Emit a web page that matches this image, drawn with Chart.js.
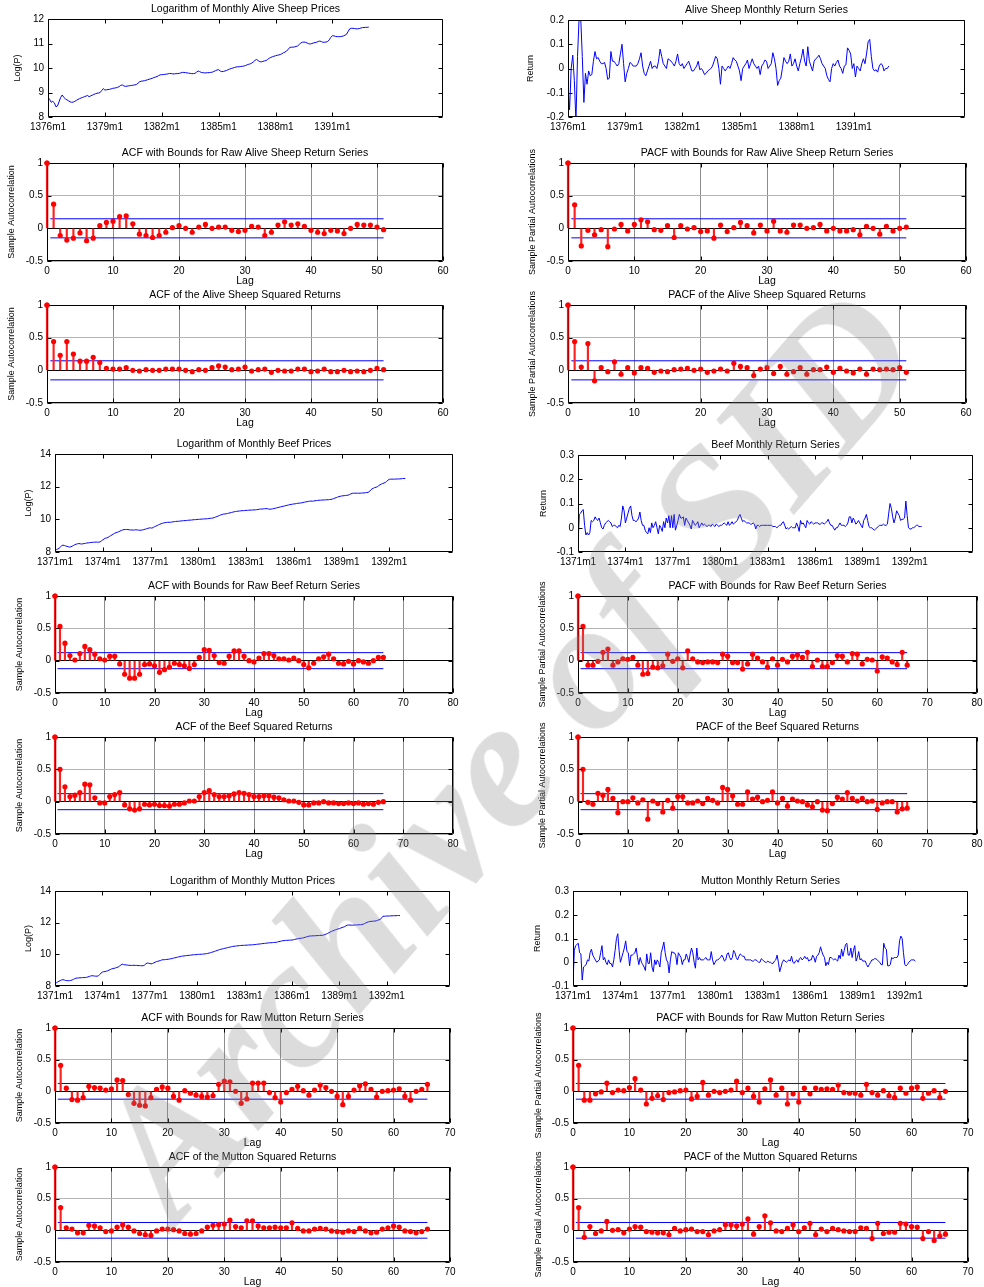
<!DOCTYPE html>
<html>
<head>
<meta charset="utf-8">
<script src="https://cdn.jsdelivr.net/npm/chart.js@4.4.1/dist/chart.umd.min.js"></script>
<style>
  html, body { margin: 0; padding: 0; background: #fff; overflow: hidden; }
  #page { position: relative; width: 984px; height: 1287px; overflow: hidden; }
  #page canvas { position: absolute; }
  #mark {
    position: absolute; left: 505px; top: 752px; z-index: 5;
    transform: translate(-50%, -50%) rotate(-49deg);
    font: italic bold 185px "Liberation Serif", "DejaVu Serif", serif;
    color: rgba(128, 128, 128, 0.28); white-space: nowrap; pointer-events: none;
  }
</style>
</head>
<body>
<div id="page"><div id="mark">Archive of SID</div></div>
<script>
// ---- price series (log) and returns, one value per month ----
const sheepLog = [
  8.80, 8.72, 8.60, 8.64, 8.58, 8.42, 8.45, 8.62, 8.80, 8.90,
  8.80, 8.74, 8.70, 8.66, 8.62, 8.60, 8.61, 8.64, 8.68, 8.72,
  8.75, 8.78, 8.80, 8.83, 8.85, 8.88, 8.83, 8.86, 8.89, 8.92,
  8.95, 8.97, 8.98, 9.00, 9.08, 9.16, 9.10, 9.11, 9.12, 9.13,
  9.15, 9.17, 9.18, 9.19, 9.21, 9.24, 9.29, 9.31, 9.27, 9.25,
  9.26, 9.27, 9.28, 9.29, 9.30, 9.31, 9.33, 9.38, 9.44, 9.46,
  9.47, 9.48, 9.50, 9.52, 9.54, 9.56, 9.58, 9.61, 9.63, 9.65,
  9.69, 9.72, 9.73, 9.73, 9.74, 9.75, 9.76, 9.78, 9.77, 9.76,
  9.76, 9.77, 9.77, 9.78, 9.80, 9.82, 9.82, 9.81, 9.80, 9.79,
  9.78, 9.77, 9.77, 9.78, 9.83, 9.88, 9.85, 9.82, 9.81, 9.80,
  9.80, 9.81, 9.81, 9.82, 9.83, 9.86, 9.89, 9.92, 9.93, 9.88,
  9.85, 9.86, 9.88, 9.90, 9.93, 9.96, 9.98, 10.00, 10.02, 10.04,
  10.05, 10.05, 10.06, 10.07, 10.08, 10.10, 10.13, 10.15, 10.17, 10.20,
  10.25, 10.31, 10.35, 10.30, 10.26, 10.25, 10.27, 10.29, 10.30, 10.35,
  10.40, 10.43, 10.46, 10.48, 10.50, 10.52, 10.53, 10.55, 10.58, 10.62,
  10.65, 10.70, 10.75, 10.84, 10.85, 10.85, 10.86, 10.88, 10.90, 10.96,
  11.02, 11.05, 11.06, 11.05, 11.02, 10.99, 10.98, 11.00, 11.02, 11.04,
  11.05, 11.08, 11.10, 11.08, 11.05, 11.05, 11.06, 11.08, 11.15, 11.25,
  11.32, 11.31, 11.29, 11.28, 11.28, 11.28, 11.29, 11.31, 11.34, 11.38,
  11.50, 11.60, 11.62, 11.62, 11.61, 11.60, 11.60, 11.61, 11.63, 11.65,
  11.65, 11.66, 11.66, 11.67
];
const sheepRet = [
  -0.07, -0.17, 0.00, 0.055, -0.05, -0.22, 0.05, 0.21, 0.21, 0.05, -0.14,
  -0.02, -0.065, -0.01, -0.03, -0.025, 0.03, 0.07, 0.04, 0.045, 0.03,
  0.02, 0.02, 0.025, 0.00, -0.045, -0.04, 0.07, 0.03, 0.03, 0.02,
  0.01, 0.02, 0.06, 0.10, 0.02, -0.055, -0.02, 0.00, 0.025, 0.02,
  0.01, 0.01, 0.01, 0.02, 0.04, 0.065, 0.01, -0.02, -0.03, -0.01,
  0.01, 0.03, 0.00, 0.01, 0.01, 0.00, 0.03, 0.08, 0.05, 0.02,
  0.01, 0.00, 0.04, 0.035, 0.03, 0.02, 0.01, 0.03, 0.06, 0.02,
  0.01, 0.02, 0.00, 0.01, 0.02, 0.03, 0.01, -0.01, -0.01, 0.00,
  0.01, 0.03, -0.005, 0.00, -0.01, -0.025, -0.02, -0.01, -0.005, 0.00,
  0.01, 0.03, 0.05, 0.04, 0.00, -0.065, 0.01, 0.00, -0.01, 0.00,
  0.01, 0.00, 0.02, 0.045, 0.035, 0.03, 0.01, -0.01, -0.05, 0.00,
  0.01, 0.02, 0.035, 0.00, 0.02, 0.04, 0.02, 0.01, 0.00, 0.01,
  -0.025, 0.01, 0.02, 0.035, 0.03, 0.00, 0.01, 0.02, 0.065, 0.04,
  0.00, -0.07, -0.05, -0.04, 0.00, 0.045, 0.03, 0.02, 0.03, 0.06,
  0.01, 0.02, 0.04, 0.01, -0.01, 0.02, 0.045, 0.08, 0.03, 0.01,
  0.09, 0.03, 0.01, -0.01, 0.03, 0.04, 0.045, 0.055, 0.04, 0.02,
  0.01, 0.00, -0.03, -0.045, -0.055, 0.00, 0.02, 0.01, 0.025, 0.035,
  0.01, 0.00, -0.02, 0.01, 0.015, 0.085, 0.075, 0.06, 0.00, 0.02,
  -0.035, 0.01, 0.00, -0.01, 0.02, 0.04, 0.02, 0.06, 0.11, 0.12,
  0.05, 0.00, -0.01, -0.005, -0.015, 0.01, 0.02, 0.015, -0.01, 0.00,
  0.00, 0.01
];
const beefLog = [
  8.10, 8.14, 8.18, 8.22, 8.30, 8.38, 8.42, 8.40, 8.37, 8.35,
  8.32, 8.30, 8.32, 8.36, 8.40, 8.45, 8.48, 8.50, 8.52, 8.50,
  8.49, 8.50, 8.52, 8.53, 8.55, 8.56, 8.57, 8.58, 8.59, 8.60,
  8.60, 8.61, 8.60, 8.60, 8.62, 8.68, 8.74, 8.80, 8.84, 8.86,
  8.90, 8.95, 9.00, 9.05, 9.10, 9.15, 9.18, 9.21, 9.24, 9.28,
  9.32, 9.35, 9.37, 9.38, 9.38, 9.37, 9.36, 9.35, 9.35, 9.34,
  9.35, 9.36, 9.35, 9.34, 9.33, 9.34, 9.35, 9.37, 9.40, 9.42,
  9.45, 9.47, 9.48, 9.46, 9.50, 9.55, 9.58, 9.62, 9.66, 9.70,
  9.73, 9.76, 9.78, 9.80, 9.81, 9.82, 9.82, 9.82, 9.83, 9.85,
  9.86, 9.87, 9.88, 9.88, 9.89, 9.90, 9.91, 9.92, 9.92, 9.93,
  9.94, 9.95, 9.95, 9.96, 9.97, 9.98, 9.98, 9.99, 10.00, 10.00,
  10.01, 10.02, 10.02, 10.03, 10.03, 10.04, 10.05, 10.06, 10.07, 10.08,
  10.10, 10.14, 10.17, 10.20, 10.24, 10.27, 10.30, 10.32, 10.33, 10.34,
  10.36, 10.38, 10.40, 10.42, 10.44, 10.46, 10.48, 10.49, 10.50, 10.51,
  10.52, 10.53, 10.53, 10.54, 10.55, 10.55, 10.56, 10.56, 10.57, 10.57,
  10.58, 10.58, 10.59, 10.60, 10.62, 10.63, 10.63, 10.64, 10.65, 10.66,
  10.65, 10.63, 10.62, 10.63, 10.64, 10.66, 10.68, 10.70, 10.72, 10.74,
  10.76, 10.78, 10.80, 10.82, 10.84, 10.86, 10.88, 10.90, 10.91, 10.93,
  10.94, 10.95, 10.97, 10.98, 10.99, 11.00, 11.01, 11.03, 11.05, 11.07,
  11.08, 11.10, 11.11, 11.12, 11.11, 11.12, 11.14, 11.15, 11.16, 11.17,
  11.17, 11.18, 11.18, 11.19, 11.19, 11.20, 11.20, 11.21, 11.22, 11.24,
  11.27, 11.30, 11.33, 11.36, 11.39, 11.41, 11.43, 11.44, 11.45, 11.46,
  11.47, 11.48, 11.52, 11.56, 11.59, 11.60, 11.60, 11.60, 11.60, 11.60,
  11.60, 11.61, 11.61, 11.62, 11.63, 11.64, 11.65, 11.70, 11.80, 11.87,
  11.90, 11.95, 11.96, 12.00, 12.06, 12.12, 12.16, 12.20, 12.22, 12.26,
  12.32, 12.40, 12.45, 12.46, 12.46, 12.46, 12.46, 12.47, 12.47, 12.47,
  12.48, 12.48, 12.50, 12.50, 12.50
];
const beefRet = [
  -0.07, 0.055, 0.06, 0.07, 0.075, 0.01, -0.03, -0.02, -0.03, -0.02,
  0.03, 0.025, 0.03, 0.045, 0.035, 0.03, 0.04, 0.02, 0.00, -0.005,
  0.01, 0.02, 0.025, 0.03, 0.025, 0.02, 0.005, 0.01, 0.01, 0.005,
  0.00, 0.01, 0.005, 0.04, 0.09, 0.07, 0.02, 0.04, 0.06, 0.08,
  0.09, 0.05, 0.03, 0.03, 0.025, 0.03, 0.04, 0.065, 0.03, 0.01,
  0.01, -0.01, -0.02, -0.025, 0.00, -0.02, 0.02, 0.00, 0.01, 0.025,
  0.00, -0.025, 0.01, 0.00, -0.015, 0.025, 0.00, 0.04, 0.02, 0.05,
  0.00, 0.05, 0.00, 0.055, -0.01, 0.01, 0.03, 0.055, 0.04, 0.04,
  0.045, 0.01, 0.04, 0.03, 0.02, 0.01, -0.005, 0.03, 0.02, 0.01,
  0.015, 0.025, 0.00, 0.01, 0.02, 0.01, 0.015, 0.01, 0.005, 0.01,
  0.01, 0.005, 0.015, 0.01, 0.005, 0.015, 0.01, 0.005, 0.01, 0.01,
  0.015, 0.02, 0.015, 0.01, 0.025, 0.01, 0.015, 0.025, 0.015, 0.02,
  0.025, 0.03, 0.045, 0.055, 0.04, 0.025, 0.03, 0.025, 0.02, 0.02,
  0.02, 0.015, 0.015, 0.02, 0.015, -0.005, 0.01, 0.01, 0.005, 0.01,
  0.01, 0.01, 0.01, 0.01, 0.01, 0.01, 0.01, 0.01, 0.005, 0.005,
  0.005, 0.00, 0.005, 0.01, 0.01, 0.02, 0.025, 0.01, -0.005, 0.00,
  -0.005, 0.00, 0.005, 0.00, 0.00, 0.00, 0.02, 0.005, -0.015, 0.03,
  0.015, 0.02, 0.01, 0.00, 0.03, 0.02, 0.015, 0.025, 0.02, 0.015,
  0.02, 0.02, 0.02, 0.015, 0.015, 0.02, 0.02, 0.015, 0.02, 0.025,
  0.035, 0.02, 0.01, 0.01, 0.00, -0.01, 0.00, 0.00, 0.01, 0.02,
  0.01, 0.01, 0.01, 0.005, 0.01, 0.02, 0.045, 0.045, 0.02, 0.04,
  0.03, 0.015, 0.02, 0.03, 0.02, 0.01, 0.00, 0.03, 0.04, 0.055,
  0.03, 0.005, 0.00, 0.00, -0.005, -0.01, -0.005, 0.00, 0.005, 0.01,
  0.01, 0.01, 0.015, 0.01, 0.01, 0.015, 0.06, 0.10, 0.08, 0.045,
  0.02, 0.04, 0.07, 0.06, 0.05, 0.03, 0.035, 0.035, 0.04, 0.11,
  0.05, 0.00, -0.005, -0.005, 0.00, 0.00, 0.005, 0.01, 0.01, 0.005,
  0.005, 0.005
];
const muttonLog = [
  8.15, 8.20, 8.25, 8.30, 8.34, 8.38, 8.40, 8.38, 8.35, 8.34,
  8.33, 8.34, 8.35, 8.38, 8.42, 8.46, 8.50, 8.50, 8.51, 8.52,
  8.52, 8.53, 8.53, 8.54, 8.55, 8.57, 8.60, 8.63, 8.65, 8.64,
  8.63, 8.62, 8.62, 8.65, 8.72, 8.82, 8.88, 8.90, 8.91, 8.94,
  8.96, 9.00, 9.04, 9.08, 9.10, 9.12, 9.14, 9.17, 9.20, 9.26,
  9.32, 9.38, 9.36, 9.34, 9.33, 9.32, 9.31, 9.30, 9.30, 9.30,
  9.31, 9.30, 9.30, 9.29, 9.29, 9.28, 9.28, 9.28, 9.32, 9.40,
  9.45, 9.44, 9.42, 9.40, 9.42, 9.46, 9.50, 9.54, 9.56, 9.58,
  9.61, 9.64, 9.66, 9.66, 9.67, 9.68, 9.69, 9.70, 9.72, 9.74,
  9.76, 9.78, 9.80, 9.82, 9.84, 9.86, 9.88, 9.89, 9.90, 9.91,
  9.92, 9.93, 9.94, 9.95, 9.96, 9.97, 9.98, 9.98, 9.99, 10.00,
  10.00, 10.01, 10.01, 10.02, 10.03, 10.04, 10.06, 10.08, 10.10, 10.13,
  10.15, 10.18, 10.21, 10.24, 10.27, 10.30, 10.32, 10.34, 10.36, 10.38,
  10.40, 10.42, 10.44, 10.46, 10.48, 10.50, 10.51, 10.52, 10.53, 10.54,
  10.55, 10.56, 10.56, 10.57, 10.57, 10.58, 10.58, 10.59, 10.59, 10.60,
  10.60, 10.61, 10.62, 10.63, 10.64, 10.65, 10.66, 10.67, 10.68, 10.69,
  10.70, 10.71, 10.72, 10.73, 10.73, 10.74, 10.75, 10.75, 10.76, 10.78,
  10.80, 10.82, 10.84, 10.86, 10.87, 10.88, 10.88, 10.89, 10.89, 10.90,
  10.90, 10.92, 10.94, 10.96, 10.98, 11.00, 11.01, 11.02, 11.03, 11.05,
  11.08, 11.10, 11.13, 11.15, 11.16, 11.16, 11.17, 11.17, 11.18, 11.18,
  11.19, 11.19, 11.20, 11.20, 11.22, 11.25, 11.28, 11.32, 11.36, 11.41,
  11.45, 11.48, 11.52, 11.55, 11.58, 11.60, 11.63, 11.66, 11.69, 11.72,
  11.75, 11.80, 11.84, 11.85, 11.85, 11.84, 11.84, 11.85, 11.85, 11.86,
  11.86, 11.87, 11.87, 11.88, 11.90, 11.94, 11.98, 12.02, 12.05, 12.07,
  12.08, 12.09, 12.10, 12.10, 12.12, 12.15, 12.18, 12.20, 12.30, 12.40,
  12.41, 12.41, 12.42, 12.42, 12.42, 12.43, 12.43, 12.44, 12.44, 12.44,
  12.45, 12.45, 12.45
];
const muttonRet = [
  -0.09, 0.05, 0.07, 0.075, 0.08, 0.04, 0.035, -0.075, -0.02, -0.015,
  -0.01, 0.01, 0.005, 0.04, 0.055, 0.03, 0.02, 0.01, 0.00, 0.005,
  0.01, 0.04, 0.07, 0.01, 0.02, 0.00, -0.01, 0.01, -0.005, -0.005,
  -0.02, 0.01, 0.05, 0.10, 0.12, 0.05, 0.00, 0.02, 0.04, 0.06,
  0.09, 0.045, 0.04, -0.015, 0.03, 0.03, 0.035, 0.04, 0.06, 0.02,
  -0.01, 0.02, 0.00, -0.01, -0.02, -0.035, 0.035, -0.005, -0.005, 0.04,
  -0.02, -0.04, 0.01, -0.01, 0.01, 0.00, -0.02, 0.04, 0.06, 0.085,
  0.04, 0.01, 0.00, -0.045, 0.01, 0.045, 0.04, 0.04, 0.03, -0.01,
  0.04, 0.03, 0.02, -0.01, 0.01, 0.01, 0.035, 0.02, 0.00, 0.035,
  0.06, 0.04, 0.00, -0.025, 0.06, 0.01, 0.02, 0.01, 0.01, 0.01,
  0.015, 0.02, 0.01, 0.01, 0.01, 0.045, 0.01, -0.01, 0.00, 0.01,
  0.01, 0.015, 0.02, 0.03, 0.02, 0.005, 0.01, 0.035, 0.04, 0.02,
  0.01, 0.02, 0.05, 0.04, 0.02, 0.01, 0.025, 0.035, 0.03, 0.025,
  0.025, 0.01, 0.01, 0.01, 0.01, 0.01, 0.005, 0.005, 0.01, 0.01,
  0.005, 0.00, 0.00, 0.015, 0.01, 0.005, 0.00, 0.00, 0.005, 0.00,
  0.00, -0.005, -0.005, 0.005, 0.01, 0.03, 0.00, -0.04, -0.02, 0.00,
  0.01, 0.005, 0.00, 0.005, 0.01, 0.005, 0.025, 0.00, -0.005, 0.005,
  0.01, 0.00, 0.015, 0.02, 0.01, 0.015, 0.025, 0.015, 0.02, 0.005,
  0.01, 0.01, 0.03, 0.02, 0.00, 0.025, 0.03, 0.04, 0.065, 0.045,
  0.03, 0.02, -0.015, 0.00, -0.01, 0.02, 0.02, 0.015, 0.01, 0.015,
  0.01, 0.005, 0.03, 0.015, 0.055, 0.025, 0.05, 0.075, 0.08, 0.03,
  0.03, 0.06, 0.02, 0.05, 0.07, 0.005, 0.02, 0.045, 0.01, 0.015,
  0.005, 0.005, 0.005, -0.01, -0.02, -0.01, 0.00, 0.01, 0.01, 0.015,
  0.015, 0.01, 0.005, 0.00, -0.01, -0.01, 0.08, 0.06, 0.055, -0.015,
  -0.015, -0.01, 0.02, 0.015, 0.02, 0.02, 0.02, 0.03, 0.09, 0.11,
  0.10, 0.04, -0.01, -0.015, -0.01, 0.00, 0.005, 0.01, 0.01, 0.01,
  0.005
];

// ---- sample ACF / PACF, lag 0 first ----
const sheepAcf = [1, 0.37, -0.11, -0.18, -0.15, -0.07, -0.19, -0.15, 0.04, 0.09, 0.11, 0.18, 0.19, 0.07, -0.09, -0.11, -0.14, -0.11, -0.06, 0.01, 0.04, 0.00, -0.06, 0.02, 0.06, 0.00, 0.02, 0.02, -0.03, -0.05, -0.03, 0.03, 0.02, -0.11, -0.06, 0.05, 0.10, 0.05, 0.07, 0.03, -0.03, -0.06, -0.08, -0.03, -0.04, -0.08, 0.00, 0.06, 0.05, 0.05, 0.02, -0.02];
const sheepPacf = [1, 0.36, -0.27, -0.03, -0.10, -0.02, -0.28, -0.01, 0.06, -0.04, 0.06, 0.13, 0.10, -0.02, -0.03, 0.04, -0.14, 0.04, -0.01, 0.01, -0.05, -0.04, -0.15, 0.05, -0.05, 0.01, 0.09, 0.04, -0.07, 0.05, -0.04, 0.11, -0.04, -0.06, 0.05, 0.05, 0.00, 0.01, 0.06, -0.04, 0.00, -0.04, -0.04, -0.02, -0.10, 0.03, 0.00, -0.09, 0.03, -0.04, 0.00, 0.02];
const sheepAcfSq = [1, 0.44, 0.23, 0.44, 0.25, 0.14, 0.14, 0.20, 0.12, 0.03, 0.02, 0.02, 0.04, 0.00, -0.01, 0.01, 0.00, 0.00, 0.02, 0.02, 0.02, 0.00, -0.02, 0.01, 0.00, 0.04, 0.07, 0.05, 0.01, 0.02, 0.05, -0.01, 0.01, 0.02, -0.03, 0.00, -0.01, -0.01, 0.02, 0.02, -0.02, -0.01, 0.02, -0.02, -0.02, 0.00, -0.02, -0.01, -0.02, 0.00, 0.03, 0.01];
const sheepPacfSq = [1, 0.44, 0.05, 0.41, -0.16, 0.04, -0.02, 0.13, -0.06, 0.04, -0.04, 0.04, 0.03, -0.03, -0.01, -0.02, 0.01, 0.02, 0.03, 0.00, 0.02, -0.03, -0.01, 0.02, -0.01, 0.11, 0.06, 0.04, -0.08, 0.02, 0.04, -0.05, 0.06, -0.06, -0.02, 0.04, -0.06, 0.01, 0.01, 0.05, -0.03, 0.03, -0.01, -0.04, 0.02, -0.06, 0.02, 0.01, 0.02, 0.01, 0.04, -0.03];
const beefAcf = [1, 0.53, 0.27, 0.08, 0.01, 0.11, 0.22, 0.17, 0.10, 0.03, 0.01, 0.07, 0.07, -0.05, -0.21, -0.27, -0.27, -0.21, -0.06, -0.05, -0.08, -0.18, -0.14, -0.10, -0.04, -0.06, -0.08, -0.12, -0.06, 0.05, 0.17, 0.16, 0.08, -0.03, -0.04, 0.07, 0.15, 0.15, 0.07, 0.00, -0.02, 0.04, 0.11, 0.11, 0.08, 0.03, 0.03, 0.01, 0.04, 0.00, -0.06, -0.11, -0.04, 0.03, 0.06, 0.10, 0.03, -0.04, -0.05, -0.01, -0.05, 0.00, -0.02, -0.04, 0.00, 0.05, 0.05];
const beefPacf = [1, 0.53, -0.07, -0.07, -0.01, 0.13, 0.18, -0.07, -0.02, 0.03, 0.02, 0.05, -0.07, -0.21, -0.20, -0.10, -0.11, -0.08, 0.10, -0.01, 0.03, -0.11, 0.15, 0.03, -0.02, -0.03, -0.02, -0.02, -0.03, 0.10, 0.07, -0.03, -0.03, -0.13, -0.05, 0.10, 0.04, -0.02, -0.10, 0.03, -0.07, 0.02, -0.02, 0.07, 0.09, 0.05, 0.13, -0.09, 0.01, -0.09, -0.09, -0.03, 0.08, 0.07, -0.02, 0.11, 0.10, -0.05, 0.02, 0.01, -0.16, 0.06, 0.04, -0.02, -0.06, 0.13, -0.07];
const beefAcfSq = [1, 0.50, 0.23, 0.08, 0.10, 0.14, 0.27, 0.26, 0.06, -0.02, -0.02, 0.08, 0.11, 0.14, -0.05, -0.11, -0.13, -0.11, -0.04, -0.05, -0.04, -0.06, -0.06, -0.07, -0.04, -0.04, -0.02, 0.01, 0.01, 0.08, 0.14, 0.17, 0.11, 0.08, 0.08, 0.09, 0.12, 0.14, 0.13, 0.11, 0.08, 0.08, 0.09, 0.09, 0.07, 0.06, 0.03, 0.01, 0.01, -0.01, -0.05, -0.05, -0.02, -0.02, 0.00, -0.02, -0.02, -0.03, -0.03, -0.02, -0.03, -0.02, -0.04, -0.03, -0.04, -0.01, 0.00];
const beefPacfSq = [1, 0.50, -0.01, -0.04, 0.13, 0.10, 0.19, 0.05, -0.17, 0.00, 0.00, 0.06, -0.02, 0.03, -0.27, 0.01, -0.03, -0.16, 0.02, -0.10, 0.08, 0.08, -0.02, -0.02, 0.01, -0.03, 0.05, 0.02, -0.02, 0.22, 0.19, 0.09, -0.04, -0.04, 0.15, 0.04, 0.07, 0.00, 0.02, 0.15, -0.02, 0.05, -0.07, 0.04, 0.01, 0.00, -0.05, -0.08, 0.00, -0.13, -0.14, -0.03, 0.07, 0.04, 0.14, 0.05, 0.01, 0.05, 0.00, 0.01, -0.12, -0.02, 0.00, 0.00, -0.16, -0.11, -0.10];
const muttonAcf = [1, 0.41, 0.05, -0.13, -0.14, -0.10, 0.08, 0.06, 0.05, 0.02, 0.04, 0.18, 0.17, -0.05, -0.19, -0.22, -0.23, -0.10, 0.03, 0.07, 0.05, -0.08, -0.14, 0.01, -0.03, -0.06, -0.08, -0.09, -0.07, 0.11, 0.16, 0.15, 0.00, -0.19, -0.12, 0.13, 0.13, 0.13, -0.02, -0.10, -0.17, -0.02, 0.03, 0.08, 0.01, -0.06, 0.02, 0.10, 0.06, 0.00, -0.08, -0.21, -0.08, 0.02, 0.09, 0.12, 0.03, -0.09, 0.00, 0.01, 0.02, 0.04, -0.08, -0.14, 0.00, 0.03, 0.11];
const muttonPacf = [1, 0.41, -0.14, -0.14, -0.04, -0.01, 0.13, -0.02, 0.02, 0.01, 0.06, 0.20, 0.02, -0.20, -0.11, -0.07, -0.13, -0.02, -0.01, 0.01, 0.02, -0.12, -0.08, 0.14, -0.06, 0.00, -0.02, 0.00, 0.02, 0.16, -0.02, 0.05, -0.08, -0.17, 0.04, 0.18, -0.06, 0.05, -0.20, -0.04, -0.17, 0.05, -0.04, 0.05, 0.03, 0.04, 0.03, 0.10, -0.02, -0.03, -0.03, -0.06, 0.11, -0.02, -0.06, 0.01, -0.07, -0.10, 0.05, -0.03, 0.05, 0.07, -0.11, -0.03, 0.01, -0.10, 0.00];
const muttonAcfSq = [1, 0.36, 0.04, 0.02, -0.04, -0.04, 0.08, 0.07, 0.04, -0.02, -0.01, 0.05, 0.09, 0.05, -0.01, -0.05, -0.07, -0.08, -0.01, 0.02, 0.02, 0.01, -0.01, -0.05, -0.06, -0.05, -0.01, 0.05, 0.08, 0.09, 0.10, 0.16, 0.06, 0.04, 0.15, 0.15, 0.07, 0.04, 0.04, 0.05, 0.04, 0.04, 0.12, 0.03, -0.01, -0.01, 0.02, 0.03, 0.02, -0.01, -0.02, -0.03, -0.01, -0.02, 0.03, -0.01, -0.04, -0.03, 0.02, 0.04, 0.07, 0.05, -0.01, -0.02, -0.04, -0.02, 0.02];
const muttonPacfSq = [1, 0.36, -0.11, 0.06, -0.05, -0.01, 0.14, 0.00, 0.01, -0.04, 0.02, 0.06, 0.05, -0.02, -0.03, -0.04, -0.04, -0.07, 0.03, -0.01, 0.01, 0.02, -0.02, -0.02, -0.07, -0.01, 0.01, 0.09, 0.09, 0.07, 0.10, 0.18, -0.06, 0.06, 0.23, 0.12, -0.01, -0.02, 0.03, 0.09, -0.02, 0.04, 0.11, -0.07, 0.02, -0.02, 0.03, 0.01, -0.01, -0.02, -0.02, 0.04, 0.03, -0.13, 0.11, -0.05, -0.03, -0.03, 0.11, 0.10, 0.06, 0.05, -0.13, -0.02, -0.16, -0.09, -0.06];

// confidence bounds (+/-)
const sheepBound = 0.146;
const beefBound = 0.124;
const muttonBound = 0.124;

// ---- tick labels ----
const sheepDates = ['1376m1', '1379m1', '1382m1', '1385m1', '1388m1', '1391m1'];
const sheepDateMonths = [0, 36, 72, 108, 144, 180];
const beefDates = ['1371m1', '1374m1', '1377m1', '1380m1', '1383m1', '1386m1', '1389m1', '1392m1'];
const beefDateMonths = [0, 36, 72, 108, 144, 180, 216, 252];
const sheepLogTicks = [8, 9, 10, 11, 12];
const sheepRetTicks = [-0.2, -0.1, 0, 0.1, 0.2];
const bigLogTicks = [8, 10, 12, 14];
const bigRetTicks = [-0.1, 0, 0.1, 0.2, 0.3];
const acfTicks = [-0.5, 0, 0.5, 1];
const lag60 = [0, 10, 20, 30, 40, 50, 60];
const lag70 = [0, 10, 20, 30, 40, 50, 60, 70];
const lag80 = [0, 10, 20, 30, 40, 50, 60, 70, 80];

const FONT = '"Liberation Sans", Arial, Helvetica, sans-serif';
Chart.defaults.font.family = FONT;
Chart.defaults.font.size = 10;
Chart.defaults.color = '#000';

const page = document.getElementById('page');
const mark = document.getElementById('mark');

// axes frame with inward ticks on all four sides + title over the plot area
const matlabAxes = {
  id: 'matlabAxes',
  afterDraw(chart, args, opts) {
    const { ctx, chartArea: a, scales: { x, y } } = chart;
    const L = Math.round(a.left) + 0.5, R = Math.round(a.right) - 0.5;
    const T = Math.round(a.top) + 0.5, B = Math.round(a.bottom) - 0.5;
    ctx.save();
    ctx.strokeStyle = '#000';
    ctx.lineWidth = 1;
    ctx.beginPath();
    x.ticks.forEach(t => {
      const px = Math.round(x.getPixelForValue(t.value)) + 0.5;
      ctx.moveTo(px, B); ctx.lineTo(px, B - 4);
      ctx.moveTo(px, T); ctx.lineTo(px, T + 4);
    });
    y.ticks.forEach(t => {
      const py = Math.round(y.getPixelForValue(t.value)) + 0.5;
      ctx.moveTo(L, py); ctx.lineTo(L + 4, py);
      ctx.moveTo(R, py); ctx.lineTo(R - 4, py);
    });
    ctx.rect(L, T, R - L, B - T);
    ctx.stroke();
    ctx.fillStyle = '#000';
    ctx.font = '10.5px ' + FONT;
    ctx.textAlign = 'center';
    ctx.textBaseline = 'middle';
    ctx.fillText(opts.title, (a.left + a.right) / 2, a.top - 10);
    ctx.restore();
  }
};

// the lag-0 stem sits on the frame: redraw it on top, like the reference
const lagZero = {
  id: 'lagZero',
  afterDraw(chart, args, opts) {
    if (!opts.value) return;
    const { ctx, scales: { x, y } } = chart;
    const px = x.getPixelForValue(0), top = y.getPixelForValue(opts.value);
    ctx.save();
    ctx.strokeStyle = 'rgba(200, 0, 0, 0.9)';
    ctx.lineWidth = 1.5;
    ctx.beginPath();
    ctx.moveTo(px + 0.5, y.getPixelForValue(0));
    ctx.lineTo(px + 0.5, top);
    ctx.stroke();
    ctx.fillStyle = '#ff0000';
    ctx.beginPath();
    ctx.arc(px, top, 2.6, 0, Math.PI * 2);
    ctx.fill();
    ctx.restore();
  }
};

const pts = arr => arr.map((v, i) => ({ x: i, y: v }));

// box = [left, top, right, bottom] of the plot area, ylx = centre of y title
function makeCanvas(box, ylx, mb) {
  const left = Math.round(ylx - 5.4);
  const top = box[1] - 22;
  const cv = document.createElement('canvas');
  cv.width = box[2] + 10 - left;
  cv.height = box[3] + mb - top;
  cv.style.left = left + 'px';
  cv.style.top = top + 'px';
  page.insertBefore(cv, mark);
  return { cv, ml: box[0] - left };
}

function scales(ml, mb, c) {
  return {
    x: {
      type: 'linear', min: c.xMin, max: c.xMax, offset: false,
      afterBuildTicks: s => { s.ticks = c.xTicks.map(v => ({ value: v })); },
      afterFit: s => { s.height = mb; s.paddingLeft = 0; s.paddingRight = 0; },
      ticks: { autoSkip: false, maxRotation: 0, padding: 4,
        callback: (v, i) => c.xLabels ? c.xLabels[i] : String(c.xTicks[i]) },
      grid: { display: !!c.grid, offset: false, drawTicks: false, color: '#8c8c8c' },
      border: { display: false },
      title: { display: !!c.lag, text: 'Lag', font: { size: 10.5 }, padding: { top: 0, bottom: 4 } }
    },
    y: {
      min: c.yMin, max: c.yMax,
      afterBuildTicks: s => { s.ticks = c.yTicks.map(v => ({ value: v })); },
      afterFit: s => { s.width = ml; s.paddingTop = 0; s.paddingBottom = 0; },
      ticks: { padding: 4, callback: (v, i) => String(c.yTicks[i]) },
      grid: { display: !!c.grid, drawTicks: false,
        color: ctx => (ctx.tick && ctx.tick.value === 0) ? '#000' : '#b4b4b4' },
      border: { display: false },
      title: { display: true, text: c.yTitle, font: { size: 9 }, padding: 0 }
    }
  };
}

function seriesChart(box, ylx, title, yTitle, vals, xMax, months, labels, yTicks) {
  const { cv, ml } = makeCanvas(box, ylx, 18);
  new Chart(cv, {
    type: 'line',
    data: { datasets: [{ data: pts(vals), borderColor: '#0000ff', borderWidth: 1,
      pointRadius: 0, tension: 0 }] },
    options: {
      responsive: false, animation: false, events: [],
      layout: { padding: { top: 22, right: 10, left: 0, bottom: 0 } },
      scales: scales(ml, 18, { xMin: 0, xMax: xMax, xTicks: months, xLabels: labels,
        yMin: yTicks[0], yMax: yTicks[yTicks.length - 1], yTicks: yTicks, yTitle: yTitle }),
      plugins: { legend: { display: false }, tooltip: { enabled: false }, matlabAxes: { title } }
    },
    plugins: [matlabAxes]
  });
}

function stemChart(box, ylx, title, yTitle, vals, bound, lagTicks) {
  const { cv, ml } = makeCanvas(box, ylx, 30);
  const last = vals.length - 1;
  const boundLine = b => ({ type: 'line', data: [{ x: 0.5, y: b }, { x: last, y: b }],
    borderColor: '#0000ff', borderWidth: 1, pointRadius: 0, order: 2, clip: false });
  new Chart(cv, {
    type: 'bar',
    data: { datasets: [
      { type: 'line', data: pts(vals), showLine: false, pointRadius: 2.6,
        pointBackgroundColor: '#ff0000', pointBorderWidth: 0, order: 0, clip: false },
      { type: 'bar', data: pts(vals), backgroundColor: '#ff2020', barThickness: 1.5, order: 1, clip: false },
      boundLine(bound), boundLine(-bound)
    ] },
    options: {
      responsive: false, animation: false, events: [],
      layout: { padding: { top: 22, right: 10, left: 0, bottom: 0 } },
      scales: scales(ml, 30, { xMin: 0, xMax: lagTicks[lagTicks.length - 1], xTicks: lagTicks,
        yMin: -0.5, yMax: 1, yTicks: acfTicks, yTitle: yTitle, grid: true, lag: true }),
      plugins: { legend: { display: false }, tooltip: { enabled: false },
        matlabAxes: { title }, lagZero: { value: vals[0] } }
    },
    plugins: [matlabAxes, lagZero]
  });
}

const ACF = 'Sample Autocorrelation';
const PACF = 'Sample Partial Autocorrelations';

// alive sheep
seriesChart([48, 19, 443, 117], 17, 'Logarithm of Monthly Alive Sheep Prices', 'Log(P)', sheepLog, 250, sheepDateMonths, sheepDates, sheepLogTicks);
seriesChart([568, 20, 965, 117], 530, 'Alive Sheep Monthly Return Series', 'Return', sheepRet, 250, sheepDateMonths, sheepDates, sheepRetTicks);
stemChart([47, 163, 443, 261], 11, 'ACF with Bounds for Raw Alive Sheep Return Series', ACF, sheepAcf, sheepBound, lag60);
stemChart([568, 163, 966, 261], 532, 'PACF with Bounds for Raw Alive Sheep Return Series', PACF, sheepPacf, sheepBound, lag60);
stemChart([47, 305, 443, 403], 11, 'ACF of the Alive Sheep Squared Returns', ACF, sheepAcfSq, sheepBound, lag60);
stemChart([568, 305, 966, 403], 532, 'PACF of the Alive Sheep Squared Returns', PACF, sheepPacfSq, sheepBound, lag60);

// beef
seriesChart([55, 454, 453, 552], 28, 'Logarithm of Monthly Beef Prices', 'Log(P)', beefLog, 300, beefDateMonths, beefDates, bigLogTicks);
seriesChart([578, 455, 973, 552], 543, 'Beef Monthly Return Series', 'Return', beefRet, 300, beefDateMonths, beefDates, bigRetTicks);
stemChart([55, 596, 453, 693], 19, 'ACF with Bounds for Raw Beef Return Series', ACF, beefAcf, beefBound, lag80);
stemChart([578, 596, 977, 693], 542, 'PACF with Bounds for Raw Beef Return Series', PACF, beefPacf, beefBound, lag80);
stemChart([55, 737, 453, 834], 19, 'ACF of the Beef Squared Returns', ACF, beefAcfSq, beefBound, lag80);
stemChart([578, 737, 977, 834], 542, 'PACF of the Beef Squared Returns', PACF, beefPacfSq, beefBound, lag80);

// mutton
seriesChart([55, 891, 450, 986], 28, 'Logarithm of Monthly Mutton Prices', 'Log(P)', muttonLog, 300, beefDateMonths, beefDates, bigLogTicks);
seriesChart([573, 891, 968, 986], 537, 'Mutton Monthly Return Series', 'Return', muttonRet, 300, beefDateMonths, beefDates, bigRetTicks);
stemChart([55, 1028, 450, 1123], 19, 'ACF with Bounds for Raw Mutton Return Series', ACF, muttonAcf, muttonBound, lag70);
stemChart([573, 1028, 968, 1123], 538, 'PACF with Bounds for Raw Mutton Return Series', PACF, muttonPacf, muttonBound, lag70);
stemChart([55, 1167, 450, 1262], 19, 'ACF of the Mutton Squared Returns', ACF, muttonAcfSq, muttonBound, lag70);
stemChart([573, 1167, 968, 1262], 538, 'PACF of the Mutton Squared Returns', PACF, muttonPacfSq, muttonBound, lag70);
</script>
</body>
</html>
